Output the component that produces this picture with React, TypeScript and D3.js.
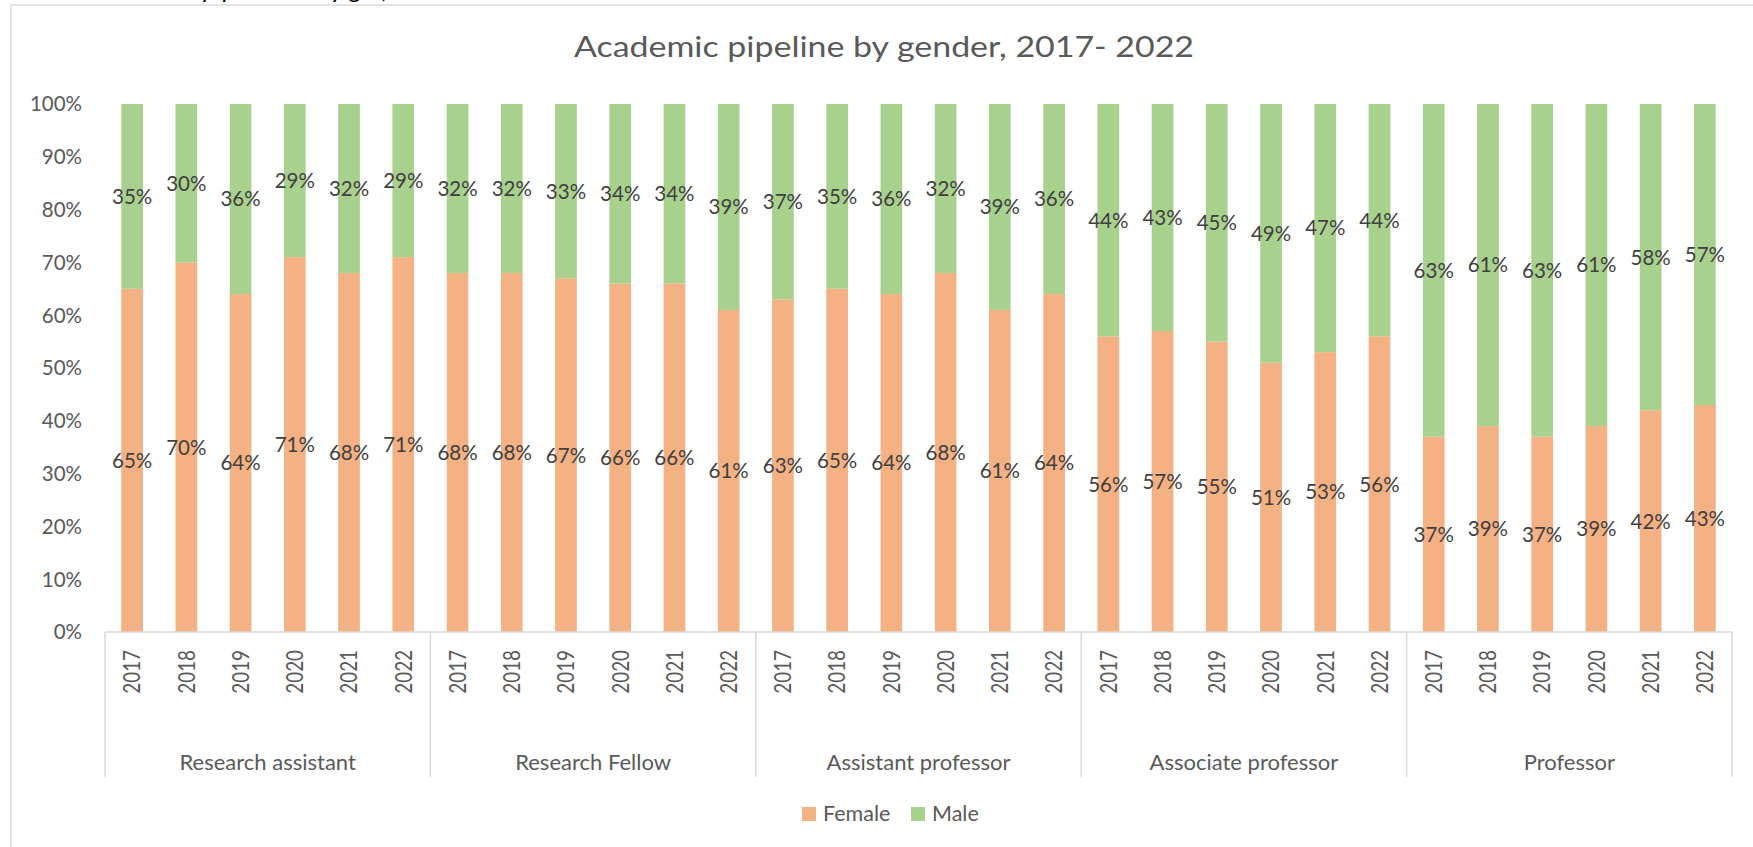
import React from "react";
import * as d3 from "d3";

const categories = [
  "Research assistant",
  "Research Fellow",
  "Assistant professor",
  "Associate professor",
  "Professor",
];
const years = ["2017", "2018", "2019", "2020", "2021", "2022"];
const female = [
  [65, 70, 64, 71, 68, 71],
  [68, 68, 67, 66, 66, 61],
  [63, 65, 64, 68, 61, 64],
  [56, 57, 55, 51, 53, 56],
  [37, 39, 37, 39, 42, 43],
];
const male = [
  [35, 30, 36, 29, 32, 29],
  [32, 32, 33, 34, 34, 39],
  [37, 35, 36, 32, 39, 36],
  [44, 43, 45, 49, 47, 44],
  [63, 61, 63, 61, 58, 57],
];
const yTicks = [0, 10, 20, 30, 40, 50, 60, 70, 80, 90, 100];
const seriesNames = ["Female", "Male"];
const seriesColors = ["#F4B183", "#A9D18E"];

const W = 1753;
const H = 847;
const FONT = "Lato, 'Open Sans', sans-serif";

export default function App() {
  const keys: string[] = [];
  categories.forEach((_, g) => years.forEach((_, i) => keys.push(`${g}-${i}`)));
  const x = d3
    .scaleBand<string>()
    .domain(keys)
    .range([105, 1732])
    .paddingInner(0.6)
    .paddingOuter(0.3);
  const y = d3.scaleLinear().domain([0, 100]).range([632, 104]);
  const bw = x.bandwidth();
  const half = (x.step() * x.paddingInner()) / 2;

  const boundaries = categories.map((_, g) => (x(`${g}-0`) as number) - half);
  boundaries.push((x(`${categories.length - 1}-${years.length - 1}`) as number) + bw + half);

  return (
    <div style={{ position: "absolute", left: 0, top: 0 }}>
      <svg width={W} height={H} style={{ display: "block", background: "#fff" }}>
        <defs>
          <clipPath id="capclip">
            <rect x={0} y={0} width={W} height={5} />
          </clipPath>
        </defs>
        <g clipPath="url(#capclip)" fill="#000" fontFamily={FONT} fontStyle="italic" fontSize={26}>
          <text x={203} y={-2}>pip</text>
          <text x={318} y={-2}>by g</text>
          <text x={382} y={-2}>,</text>
        </g>
        <rect x={11} y={5} width={2000} height={2000} fill="none" stroke="#D9D9D9" strokeWidth={1.5} />

        <text
          transform="translate(884,57) scale(1.17,1)"
          textAnchor="middle"
          fontFamily={FONT}
          fontSize={29}
          fill="#595959"
        >
          Academic pipeline by gender, 2017- 2022
        </text>

        {yTicks.map((t) => (
          <text key={t} x={82} y={y(t)} dy="0.36em" textAnchor="end" fontFamily={FONT} fontSize={20.5} fill="#595959">
            {t}%
          </text>
        ))}

        {categories.map((_, g) =>
          years.map((_, i) => {
            const k = `${g}-${i}`;
            const x0 = x(k) as number;
            const f = female[g][i];
            const m = male[g][i];
            return (
              <g key={k}>
                <rect x={x0} y={y(f)} width={bw} height={y(0) - y(f)} fill={seriesColors[0]} />
                <rect x={x0} y={y(f + m)} width={bw} height={y(f) - y(f + m)} fill={seriesColors[1]} />
              </g>
            );
          })
        )}

        {categories.map((_, g) =>
          years.map((_, i) => {
            const k = `${g}-${i}`;
            const cx = (x(k) as number) + bw / 2;
            const f = female[g][i];
            const m = male[g][i];
            return (
              <g key={"l" + k} fontFamily={FONT} fontSize={20.5} fill="#404040" textAnchor="middle">
                <text x={cx} y={y(f / 2)} dy="0.36em">{f}%</text>
                <text x={cx} y={y(f + m / 2)} dy="0.36em">{m}%</text>
              </g>
            );
          })
        )}

        <line x1={boundaries[0]} x2={boundaries[boundaries.length - 1]} y1={y(0)} y2={y(0)} stroke="#D9D9D9" strokeWidth={1.5} />
        {boundaries.map((b, j) => (
          <line key={j} x1={b} x2={b} y1={y(0)} y2={777} stroke="#D9D9D9" strokeWidth={1.5} />
        ))}

        {categories.map((_, g) =>
          years.map((yr, i) => {
            const k = `${g}-${i}`;
            const cx = (x(k) as number) + bw / 2;
            return (
              <text
                key={"y" + k}
                transform={`translate(${cx},650) rotate(-90) scale(0.82,1)`}
                dy="0.36em"
                textAnchor="end"
                fontFamily={FONT}
                fontSize={23}
                fill="#595959"
              >
                {yr}
              </text>
            );
          })
        )}

        {categories.map((c, g) => (
          <text
            key={c}
            x={(boundaries[g] + boundaries[g + 1]) / 2}
            y={770}
            textAnchor="middle"
            fontFamily={FONT}
            fontSize={22}
            fill="#595959"
          >
            {c}
          </text>
        ))}

        {seriesNames.map((s, i) => {
          const lx = [802, 911][i];
          return (
            <g key={s}>
              <rect x={lx} y={807} width={14} height={14} fill={seriesColors[i]} />
              <text x={lx + 21} y={821} fontFamily={FONT} fontSize={21.5} fill="#595959">
                {s}
              </text>
            </g>
          );
        })}
      </svg>
    </div>
  );
}
